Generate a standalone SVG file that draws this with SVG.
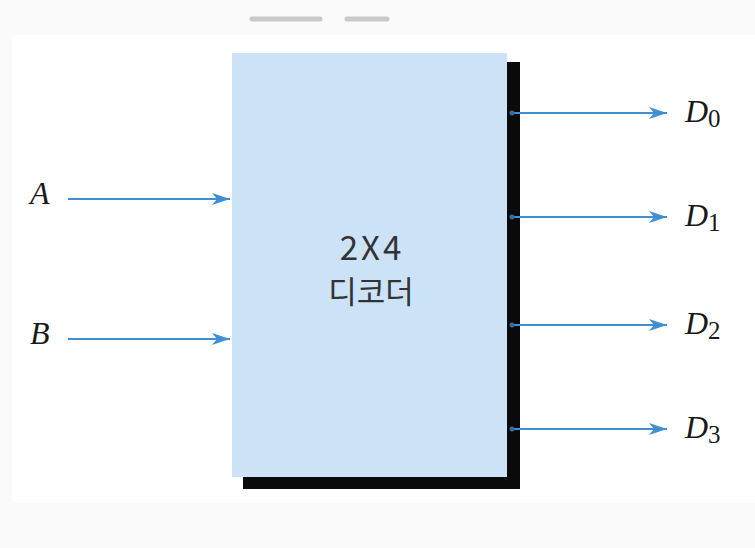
<svg xmlns="http://www.w3.org/2000/svg" width="755" height="548" viewBox="0 0 755 548">
<style>
.wire{stroke:#3f8fd2;stroke-width:2;fill:none}
.lbl{font-family:"Liberation Serif","Times New Roman",serif;font-style:italic;font-size:32px;fill:#1a1a1a}
.sub{font-style:normal;font-size:25px}
.ctr{font-family:"Noto Sans CJK KR","Noto Sans",sans-serif;fill:#333;text-anchor:middle}
.dot{fill:#2f6f9f}
</style>
<defs>
<marker id="arr" markerUnits="userSpaceOnUse" markerWidth="20" markerHeight="12" refX="18" refY="6" orient="auto">
<path d="M0,0 L18,6 L0,12 L5,6 Z" fill="#3f8fd2"/>
</marker>
</defs>
<rect x="0" y="0" width="755" height="548" fill="#fafafa"/>
<rect x="12" y="35" width="750" height="468" rx="6" fill="#ffffff"/>
<g id="deco">
<line x1="252" y1="19" x2="320" y2="19" stroke="#c9c9c9" stroke-width="5" stroke-linecap="round"/>
<line x1="347" y1="19" x2="387" y2="19" stroke="#c9c9c9" stroke-width="5" stroke-linecap="round"/>
</g>
<g id="decoder">
<rect x="243" y="62" width="277" height="427" fill="#0a0a0a"/>
<rect x="232" y="53" width="275" height="424" fill="#cbe2f7"/>
<text class="ctr" x="372" y="260" font-size="33" letter-spacing="3">2X4</text>
<text class="ctr" x="371" y="303" font-size="31">디코더</text>
</g>
<g id="connectors">
<line class="wire" x1="68" y1="199" x2="230" y2="199" marker-end="url(#arr)"/>
<line class="wire" x1="68" y1="339" x2="230" y2="339" marker-end="url(#arr)"/>
<line class="wire" x1="511" y1="113" x2="667" y2="113" marker-end="url(#arr)"/>
<line class="wire" x1="511" y1="217" x2="667" y2="217" marker-end="url(#arr)"/>
<line class="wire" x1="511" y1="325" x2="667" y2="325" marker-end="url(#arr)"/>
<line class="wire" x1="511" y1="429" x2="667" y2="429" marker-end="url(#arr)"/>
<circle class="dot" cx="512" cy="113" r="2.5"/>
<circle class="dot" cx="512" cy="217" r="2.5"/>
<circle class="dot" cx="512" cy="325" r="2.5"/>
<circle class="dot" cx="512" cy="429" r="2.5"/>
</g>
<g id="inA"><text class="lbl" x="30" y="204">A</text></g>
<g id="inB"><text class="lbl" x="30" y="344">B</text></g>
<g id="outD0"><text class="lbl" x="685" y="122">D<tspan class="sub" dy="5">0</tspan></text></g>
<g id="outD1"><text class="lbl" x="685" y="226">D<tspan class="sub" dy="5">1</tspan></text></g>
<g id="outD2"><text class="lbl" x="685" y="334">D<tspan class="sub" dy="5">2</tspan></text></g>
<g id="outD3"><text class="lbl" x="685" y="438">D<tspan class="sub" dy="5">3</tspan></text></g>
</svg>
